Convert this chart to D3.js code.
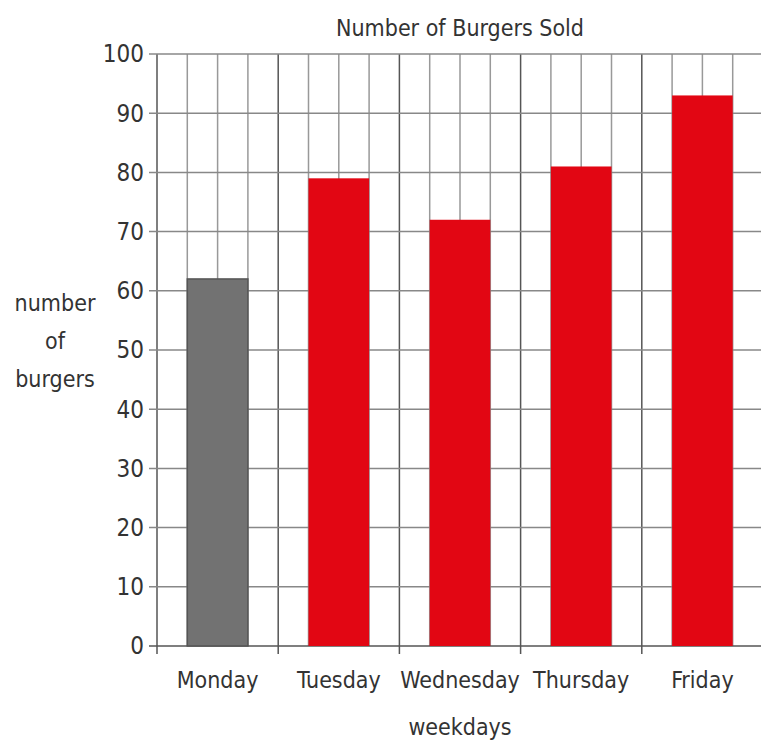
<!DOCTYPE html>
<html>
	<head>
		<meta charset="utf-8">
		<title>Number of Burgers Sold</title>
		<style>
			body {
			  margin: 0;
			  background: #fff;
			  overflow: hidden;
			}
			svg {
			  position: absolute;
			  font-family: "Liberation Sans Narrow", "DejaVu Sans Condensed", "Liberation Sans", sans-serif;
			}
			text { fill: #333; }
		</style>
		<script src="https://d3js.org/d3.v7.min.js" charset="utf-8"></script>
	</head>
	<body>
		<script>

		var days = ["Monday", "Tuesday", "Wednesday", "Thursday", "Friday"];
		var burgers = [62, 79, 72, 81, 93];
		var yTicks = [0, 10, 20, 30, 40, 50, 60, 70, 80, 90, 100];
		var barColors = ["#727272", "#e20613", "#e20613", "#e20613", "#e20613"];

		var w = 761,
			h = 745;

		var plotLeft = 157, plotRight = 763, plotTop = 54, plotBottom = 646;

		var svg = d3.select("body").append("svg")
			.attr("width", w)
			.attr("height", h);

		var x = d3.scaleBand()
			.domain(days)
			.range([plotLeft, plotRight])
			.paddingInner(0.5)
			.paddingOuter(0.25);

		var y = d3.scaleLinear()
			.domain([0, 100])
			.range([plotBottom, plotTop]);

		// fine columns: each day spans 4 grid columns
		var colW = x.step() / 4;
		var cols = d3.range(0, days.length * 4 + 1);

		svg.append("g").selectAll("line")
			.data(cols)
			.enter().append("line")
			.attr("x1", function(d){ return plotLeft + d * colW; })
			.attr("x2", function(d){ return plotLeft + d * colW; })
			.attr("y1", plotTop)
			.attr("y2", function(d){ return (d % 4 === 0) ? plotBottom + 8 : plotBottom; })
			.attr("stroke", function(d){ return (d % 4 === 0) ? "#555" : "#999"; })
			.attr("stroke-width", 1.5);

		svg.append("g").selectAll("line")
			.data(yTicks)
			.enter().append("line")
			.attr("x1", plotLeft - 8)
			.attr("x2", w)
			.attr("y1", function(d){ return y(d); })
			.attr("y2", function(d){ return y(d); })
			.attr("stroke", function(d){ return d === 0 ? "#555" : "#888"; })
			.attr("stroke-width", 1.5);

		// bars
		svg.append("g").selectAll("rect")
			.data(burgers)
			.enter().append("rect")
			.attr("x", function(d, i){ return x(days[i]); })
			.attr("y", function(d){ return y(d); })
			.attr("width", x.bandwidth())
			.attr("height", function(d){ return y(0) - y(d); })
			.attr("fill", function(d, i){ return barColors[i]; })
			.attr("stroke", function(d, i){ return i === 0 ? "#555" : "none"; })
			.attr("stroke-width", 1.5);

		// y tick labels
		svg.append("g").selectAll("text")
			.data(yTicks)
			.enter().append("text")
			.attr("x", plotLeft - 13)
			.attr("y", function(d){ return y(d); })
			.attr("dy", "0.35em")
			.attr("text-anchor", "end")
			.attr("font-size", "24px")
			.text(function(d){ return d; });

		// x labels
		svg.append("g").selectAll("text")
			.data(days)
			.enter().append("text")
			.attr("x", function(d){ return x(d) + x.bandwidth() / 2; })
			.attr("y", 688)
			.attr("text-anchor", "middle")
			.attr("font-size", "23px")
			.text(function(d){ return d; });

		svg.append("text")
			.attr("x", (plotLeft + plotRight) / 2)
			.attr("y", 36)
			.attr("text-anchor", "middle")
			.attr("font-size", "23px")
			.text("Number of Burgers Sold");

		svg.append("text")
			.attr("x", (plotLeft + plotRight) / 2)
			.attr("y", 735)
			.attr("text-anchor", "middle")
			.attr("font-size", "23px")
			.text("weekdays");

		var yLabel = ["number", "of", "burgers"];
		svg.append("g").selectAll("text")
			.data(yLabel)
			.enter().append("text")
			.attr("x", 55)
			.attr("y", function(d, i){ return 311 + i * 38; })
			.attr("text-anchor", "middle")
			.attr("font-size", "23px")
			.text(function(d){ return d; });

		</script>
	</body>
</html>
